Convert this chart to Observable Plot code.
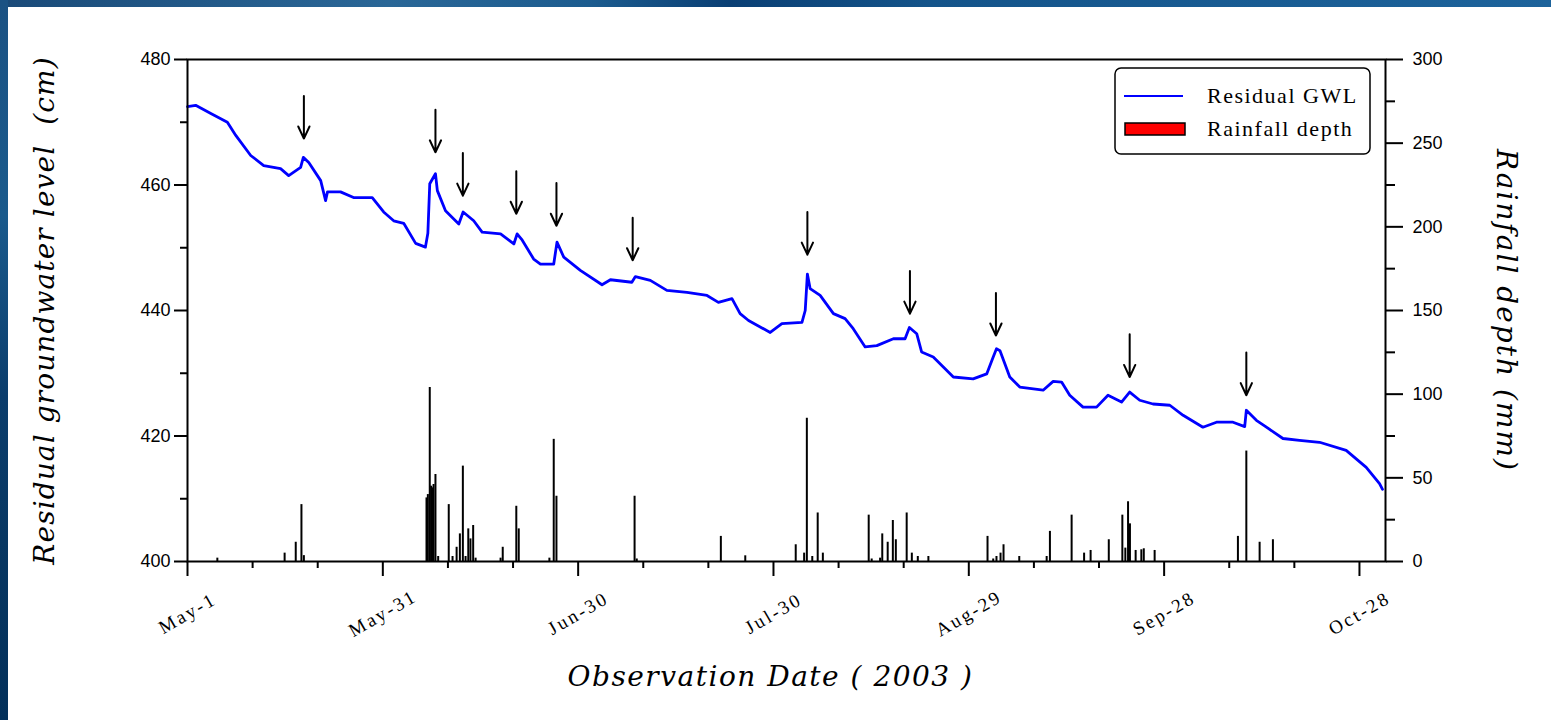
<!DOCTYPE html>
<html><head><meta charset="utf-8">
<script src="https://cdn.jsdelivr.net/npm/d3@7"></script>
<script src="https://cdn.jsdelivr.net/npm/@observablehq/plot@0.6"></script>
<style>
html,body{margin:0;padding:0;width:1551px;height:720px;overflow:hidden;background:#fff;}
#topband{position:absolute;left:0;top:0;width:1551px;height:7px;background:linear-gradient(90deg,#1a4a78 0%,#2a6797 25%,#1c5c8f 38%,#0a3f74 47%,#14548a 60%,#1d639b 100%);}
#leftband{position:absolute;left:0;top:0;width:8px;height:720px;background:linear-gradient(180deg,#1b5283 0%,#1a5a8c 30%,#0b3d6c 55%,#083762 75%,#03305a 100%);}
#chart{position:absolute;left:8px;top:7px;width:1543px;height:713px;background:#fff;}
</style></head><body>
<div id="topband"></div><div id="leftband"></div><div id="chart"></div>
<script>
// ---- Residual groundwater level (cm) ----
const gwlTime = ["2003-05-01 00","2003-05-02 06","2003-05-04 14","2003-05-07 03","2003-05-08 10","2003-05-10 17","2003-05-12 17","2003-05-15 07","2003-05-16 13","2003-05-18 09","2003-05-18 19","2003-05-19 15","2003-05-21 11","2003-05-22 05","2003-05-22 12","2003-05-24 12","2003-05-26 12","2003-05-29 09","2003-05-31 03","2003-06-01 16","2003-06-03 05","2003-06-05 01","2003-06-06 13","2003-06-06 22","2003-06-07 05","2003-06-08 02","2003-06-08 09","2003-06-09 15","2003-06-11 16","2003-06-12 08","2003-06-13 23","2003-06-15 06","2003-06-18 02","2003-06-20 03","2003-06-20 15","2003-06-21 10","2003-06-23 04","2003-06-24 05","2003-06-26 06","2003-06-26 18","2003-06-27 19","2003-06-30 08","2003-07-03 16","2003-07-04 23","2003-07-08 06","2003-07-08 19","2003-07-11 02","2003-07-13 15","2003-07-16 17","2003-07-19 19","2003-07-21 13","2003-07-23 15","2003-07-24 21","2003-07-26 04","2003-07-29 12","2003-07-31 07","2003-08-03 09","2003-08-03 21","2003-08-04 05","2003-08-04 15","2003-08-06 04","2003-08-08 05","2003-08-10 00","2003-08-11 06","2003-08-13 02","2003-08-14 21","2003-08-17 10","2003-08-19 05","2003-08-19 21","2003-08-21 00","2003-08-21 18","2003-08-23 13","2003-08-25 02","2003-08-26 15","2003-08-29 16","2003-08-31 18","2003-09-01 18","2003-09-02 06","2003-09-02 19","2003-09-04 07","2003-09-05 20","2003-09-09 10","2003-09-10 23","2003-09-12 06","2003-09-13 12","2003-09-15 13","2003-09-17 15","2003-09-19 09","2003-09-21 11","2003-09-22 17","2003-09-24 06","2003-09-26 07","2003-09-28 21","2003-09-30 22","2003-10-03 23","2003-10-06 01","2003-10-08 14","2003-10-10 09","2003-10-10 15","2003-10-12 04","2003-10-13 17","2003-10-16 06","2003-10-18 19","2003-10-21 21","2003-10-25 23","2003-10-29 01","2003-10-31 02","2003-10-31 13"];
const gwlLevel = [472.5,472.7,471.4,470.0,467.9,464.7,463.1,462.6,461.5,462.8,464.4,463.6,460.7,457.5,458.9,458.9,458.0,458.0,455.7,454.3,453.9,450.7,450.1,452.3,460.2,461.8,459.1,455.9,453.8,455.7,454.3,452.5,452.2,450.6,452.2,451.2,448.2,447.4,447.4,450.9,448.5,446.4,444.1,444.9,444.5,445.4,444.8,443.2,442.9,442.4,441.3,441.9,439.5,438.4,436.5,437.9,438.1,440.0,445.8,443.5,442.4,439.5,438.7,437.1,434.2,434.4,435.5,435.5,437.3,436.3,433.4,432.6,431.0,429.4,429.1,429.9,432.6,433.9,433.6,429.4,427.8,427.3,428.7,428.6,426.5,424.6,424.6,426.5,425.4,427.0,425.7,425.1,424.9,423.3,421.4,422.2,422.2,421.5,424.1,422.5,421.4,419.6,419.3,419.0,417.7,415.0,412.4,411.5];

// ---- Rainfall depth (mm) ----
const rainTime = ["2003-05-05 14","2003-05-15 22","2003-05-17 15","2003-05-18 12","2003-05-18 21","2003-06-06 17","2003-06-06 22","2003-06-07 05","2003-06-07 10","2003-06-07 14","2003-06-07 19","2003-06-08 02","2003-06-08 12","2003-06-10 03","2003-06-10 17","2003-06-11 08","2003-06-11 20","2003-06-12 07","2003-06-12 17","2003-06-13 03","2003-06-13 11","2003-06-13 21","2003-06-14 06","2003-06-18 02","2003-06-18 10","2003-06-20 12","2003-06-20 21","2003-06-25 14","2003-06-26 06","2003-06-26 16","2003-07-08 16","2003-07-09 00","2003-07-21 22","2003-07-25 16","2003-08-02 10","2003-08-03 17","2003-08-04 03","2003-08-04 23","2003-08-05 19","2003-08-06 14","2003-08-13 15","2003-08-14 02","2003-08-15 09","2003-08-15 17","2003-08-16 13","2003-08-17 08","2003-08-17 19","2003-08-19 11","2003-08-20 06","2003-08-21 04","2003-08-22 19","2003-08-31 21","2003-09-01 18","2003-09-02 06","2003-09-02 21","2003-09-03 08","2003-09-05 18","2003-09-09 23","2003-09-10 11","2003-09-13 19","2003-09-15 17","2003-09-16 17","2003-09-19 12","2003-09-21 14","2003-09-22 01","2003-09-22 11","2003-09-22 18","2003-09-23 15","2003-09-24 12","2003-09-24 21","2003-09-26 13","2003-10-09 08","2003-10-10 15","2003-10-12 16","2003-10-14 17"];
const rainDepth = [2,5,11.5,34,3.5,38,40,104,45,44,46,52,3,34,3,8.5,16.5,57,3,19.5,13.5,21.5,2,2,8.5,33,19.5,2,73,39,39,1.5,15,3.4,10,5,85.6,3,29,5,27.7,1.5,2,16.5,11.5,24.5,13,29,5,3,3,15,1.5,3,5,10,3,3,18,27.7,5,6.6,13,27.7,8,35.7,22.5,6.6,7,7.6,6.6,15,66,11.5,13];

// ---- Arrows marking recharge events (tip level, cm) ----
const arrowTime = ["2003-05-18 21","2003-06-08 02","2003-06-12 07","2003-06-20 12","2003-06-26 16","2003-07-08 09","2003-08-04 05","2003-08-19 23","2003-09-02 04","2003-09-22 17","2003-10-10 15"];
const arrowTip = [467.4,465.2,458.3,455.4,453.5,448.0,448.9,439.5,436.0,429.4,426.5];

// ---- Axes ----
const xTickDates = ["2003-05-01","2003-05-31","2003-06-30","2003-07-30","2003-08-29","2003-09-28","2003-10-28"];
const xTickLabels = ["May-1","May-31","Jun-30","Jul-30","Aug-29","Sep-28","Oct-28"];
const xMinorDates = ["2003-05-11","2003-05-21","2003-06-10","2003-06-20","2003-07-10","2003-07-20","2003-08-09","2003-08-19","2003-09-08","2003-09-18","2003-10-08","2003-10-18"];
const gwlTicks = [400,420,440,460,480];
const gwlMinorTicks = [410,430,450,470];
const rainTicks = [0,50,100,150,200,250,300];
const rainMinorTicks = [25,75,125,175,225,275];

const titleLeft = "Residual groundwater level  (cm)";
const titleRight = "Rainfall depth (mm)";
const titleBottom = "Observation Date ( 2003 )";

const parseT = d3.utcParse("%Y-%m-%d %H");
const parseD = d3.utcParse("%Y-%m-%d");
// secondary axis mapping: rainfall 0–300 mm onto the 400–480 cm scale
const gwlMin = 400, gwlMax = 480, rainMax = 300;
const mm2cm = mm => gwlMin + mm * (gwlMax - gwlMin) / rainMax;
const cm2mm = cm => (cm - gwlMin) * rainMax / (gwlMax - gwlMin);

const gwl = gwlTime.map((t, i) => ({t: parseT(t), v: gwlLevel[i]}));
const rain = rainTime.map((t, i) => ({t: parseT(t), base: mm2cm(0), lvl: mm2cm(rainDepth[i])}));
const arrows = arrowTime.map((t, i) => ({t: parseT(t), tip: arrowTip[i]}));
const xTicks = xTickDates.map((d, i) => ({t: parseD(d), label: xTickLabels[i]}));
const xMinor = xMinorDates.map(parseD);

const tickFont = "'Liberation Sans',Arial,sans-serif";
const titleFont = "'DejaVu Serif',serif";

const chart = Plot.plot({
  width: 1543, height: 713,
  marginLeft: 179, marginRight: 166, marginTop: 52, marginBottom: 159,
  x: {type: "utc", domain: [parseD("2003-05-01"), parseD("2003-11-01")]},
  y: {domain: [gwlMin, gwlMax]},
  style: {fontFamily: tickFont, fontSize: "18px", color: "#000", background: "transparent"},
  marks: [
    Plot.ruleX(rain, {x: "t", y1: "base", y2: "lvl", stroke: "#000", strokeWidth: 2}),
    Plot.line(gwl, {x: "t", y: "v", stroke: "#0000ff", strokeWidth: 2.8}),
    Plot.arrow(arrows, {x: "t", y1: d => d.tip + 6.8, y2: "tip", stroke: "#000", strokeWidth: 2, headLength: 10, headAngle: 50}),
    Plot.frame({stroke: "#000", strokeWidth: 2}),
    Plot.axisY({ticks: gwlTicks, anchor: "left", tickSize: 13, tickPadding: 4, strokeWidth: 2, label: null, fontSize: 18, tickFormat: d => d}),
    Plot.axisY({ticks: gwlMinorTicks, anchor: "left", tickSize: 7, strokeWidth: 2, label: null, tickFormat: () => ""}),
    Plot.axisY({ticks: rainTicks.map(mm2cm), anchor: "right", tickSize: 17, tickPadding: 10, strokeWidth: 2, label: null, fontSize: 18, tickFormat: v => String(Math.round(cm2mm(v)))}),
    Plot.axisY({ticks: rainMinorTicks.map(mm2cm), anchor: "right", tickSize: 9, strokeWidth: 2, label: null, tickFormat: () => ""}),
    Plot.axisX({ticks: xTicks.map(d => d.t), anchor: "bottom", tickSize: 15, strokeWidth: 2, label: null, tickFormat: () => ""}),
    Plot.axisX({ticks: xMinor, anchor: "bottom", tickSize: 7, strokeWidth: 2, label: null, tickFormat: () => ""}),
    Plot.text(xTicks, {x: "t", text: "label", frameAnchor: "bottom", dy: 52, rotate: -30, textAnchor: "middle", lineAnchor: "middle", fontSize: 19, fontFamily: "'Liberation Serif',serif"}),
    Plot.text([titleLeft], {text: d => d, frameAnchor: "left", dx: -142, rotate: -90, textAnchor: "middle", lineAnchor: "middle", fontSize: 28, fontStyle: "italic", fontFamily: titleFont}),
    Plot.text([titleRight], {text: d => d, frameAnchor: "right", dx: 120, rotate: 90, textAnchor: "middle", lineAnchor: "middle", fontSize: 28, fontStyle: "italic", fontFamily: titleFont}),
    Plot.text([titleBottom], {text: d => d, frameAnchor: "bottom", dx: -16, dy: 116, textAnchor: "middle", lineAnchor: "middle", fontSize: 28, fontStyle: "italic", fontFamily: titleFont})
  ]
});
document.getElementById("chart").appendChild(chart);

// letter spacing for titles and date labels
const svg = d3.select(chart);
const spacing = new Map([[titleLeft, "1.1px"], [titleRight, "2px"], [titleBottom, "1.5px"]]);
xTickLabels.forEach(l => spacing.set(l, "2.5px"));
svg.selectAll("text").each(function() {
  const s = spacing.get(this.textContent);
  if (s) { this.setAttribute("letter-spacing", s); this.style.letterSpacing = s; this.setAttribute("xml:space", "preserve"); this.style.whiteSpace = "pre"; }
});

// legend
const lg = svg.append("g").attr("font-family", "'Liberation Serif',serif").attr("font-size", 22)
  .attr("letter-spacing", "1.5px").attr("text-anchor", "start");
lg.append("rect").attr("x", 1107).attr("y", 61).attr("width", 255).attr("height", 86).attr("rx", 6)
  .attr("fill", "#fff").attr("stroke", "#000").attr("stroke-width", 1.5);
lg.append("line").attr("x1", 1116).attr("x2", 1175).attr("y1", 89).attr("y2", 89).attr("stroke", "#0000ff").attr("stroke-width", 2);
lg.append("rect").attr("x", 1117).attr("y", 116).attr("width", 60).attr("height", 12).attr("fill", "#ff0000").attr("stroke", "#000").attr("stroke-width", 1.5);
lg.append("text").attr("x", 1199).attr("y", 96).attr("text-anchor", "start").text("Residual GWL");
lg.append("text").attr("x", 1199).attr("y", 129).attr("text-anchor", "start").text("Rainfall depth");
</script>
</body></html>
